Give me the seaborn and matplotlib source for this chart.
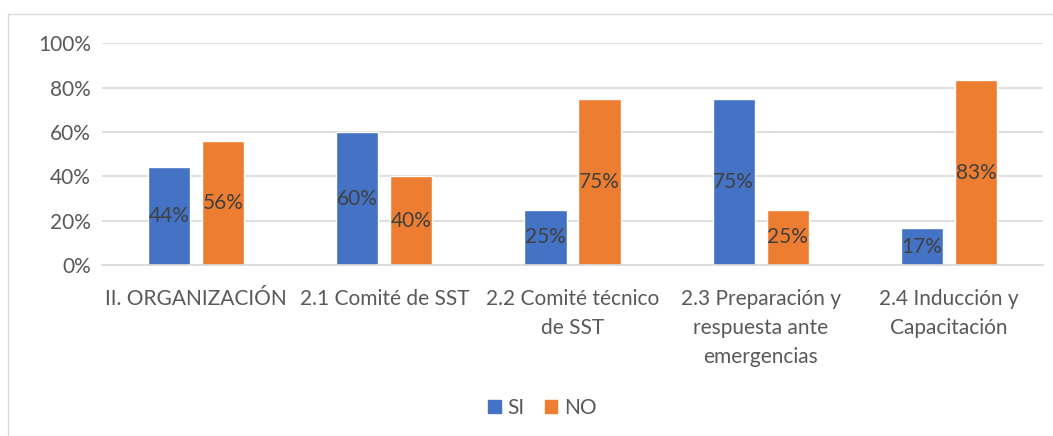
import matplotlib
matplotlib.use("Agg")
import matplotlib.pyplot as plt
import matplotlib.patches as mpatches
import seaborn as sns
import pandas as pd

# data
categories = ["II. ORGANIZACIÓN", "2.1 Comité de SST", "2.2 Comité técnico de SST",
              "2.3 Preparación y respuesta ante emergencias", "2.4 Inducción y Capacitación"]
tick_labels = ["II. ORGANIZACIÓN", "2.1 Comité de SST", "2.2 Comité técnico\nde SST",
               "2.3 Preparación y\nrespuesta ante\nemergencias", "2.4 Inducción y\nCapacitación"]
series = ["SI", "NO"]
si_values = [44, 60, 25, 75, 16.7]
no_values = [56, 40, 75, 25, 83.3]
y_ticks = [0, 20, 40, 60, 80, 100]

df = pd.DataFrame({
    "categoria": categories * 2,
    "serie": ["SI"] * len(categories) + ["NO"] * len(categories),
    "valor": si_values + no_values,
})

sns.set_theme(style="white")
plt.rcParams["font.family"] = ["Lato", "DejaVu Sans"]
FS = 15

fig = plt.figure(figsize=(10.53, 4.36), dpi=100)
ax = fig.add_axes([0.0969, 0.392, 0.8936, 0.509])

# outer chart border (light grey frame like the Excel chart area)
fig.patches.append(mpatches.Rectangle((8 / 1053, -0.05), 1.2, 1 - 14 / 436 + 0.05,
                                      transform=fig.transFigure, fill=False,
                                      edgecolor="#D9D9D9", linewidth=1.0))

sns.barplot(data=df, x="categoria", y="valor", hue="serie", hue_order=series,
            palette=["#4472C4", "#ED7D31"], saturation=1, width=0.574, gap=0.22,
            order=categories, ax=ax, legend=False)

for cont in ax.containers:
    ax.bar_label(cont, labels=[f"{round(b.get_height()):.0f}%" for b in cont],
                 label_type="center", fontsize=FS, color="#404040")

ax.set_ylim(0, 100)
ax.set_yticks(y_ticks)
ax.set_yticklabels([f"{t}%" for t in y_ticks], fontsize=FS, color="#595959")
ax.set_xticks(range(len(categories)))
ax.set_xticklabels(tick_labels, fontsize=FS, color="#595959", linespacing=1.58)
ax.set_xlim(-0.5, len(categories) - 0.5)
ax.set_xlabel("")
ax.set_ylabel("")
ax.tick_params(axis="x", length=0, pad=17)
ax.tick_params(axis="y", length=0, pad=8)
ax.yaxis.grid(True, color="#D9D9D9", linewidth=1.2)
ax.set_axisbelow(True)
for side in ["top", "right", "left"]:
    ax.spines[side].set_visible(False)
ax.spines["bottom"].set_color("#D9D9D9")
ax.spines["bottom"].set_linewidth(1.2)

handles = [mpatches.Patch(color="#4472C4", label="SI"),
           mpatches.Patch(color="#ED7D31", label="NO")]
fig.legend(handles=handles, loc="center", bbox_to_anchor=(0.515, 0.064), ncol=2,
           frameon=False, fontsize=FS, handlelength=0.6, handleheight=0.6,
           handletextpad=0.3, columnspacing=1.0, labelcolor="#595959")

fig.savefig("out.png", dpi=100)
